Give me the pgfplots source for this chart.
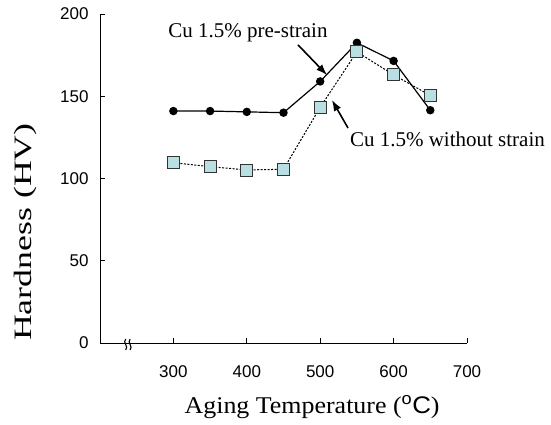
\documentclass[border=0pt]{standalone}
\usepackage{fontspec}
\setmainfont{Liberation Serif}
\setsansfont{Liberation Sans}
\usepackage{pgfplots}
\pgfplotsset{compat=1.18}
\usetikzlibrary{arrows.meta}
\definecolor{sqfill}{RGB}{184,224,226}
\begin{document}
\begin{tikzpicture}
\path[use as bounding box] (-100bp,-82bp) rectangle (451bp,343bp);
\begin{axis}[
  scale only axis, width=367bp, height=329bp,
  at={(0,0)}, anchor=south west,
  xmin=200, xmax=700, ymin=0, ymax=200,
  axis x line*=bottom, axis y line*=left,
  axis line style={line width=0.9bp, black, -},
  xtick={300,400,500,600,700}, ytick={0,50,100,150,200},
  tick align=inside, major tick length=5bp,
  tick style={line width=0.7bp, black},
  /pgf/number format/assume math mode=true,
  ticklabel style={font=\sffamily\fontsize{17bp}{19bp}\selectfont},
  xticklabel style={yshift=-19bp},
  yticklabel style={xshift=-8bp},
  xlabel={\scalebox{1.08}[1]{Aging Temperature (\textsuperscript{\sffamily o}{\sffamily C})}},
  xlabel style={font=\fontsize{24bp}{28bp}\selectfont, at={(axis description cs:0.578,-0.213)}, anchor=base},
  ylabel={\scalebox{1.43}[1]{Hardness (HV)}},
  ylabel style={font=\fontsize{25bp}{28bp}\selectfont, at={(axis description cs:-0.204,0.337)}, anchor=center},
  clip=false,
]
\addplot[black, line width=1.2bp, mark=*, mark size=3.6bp, mark options={solid, fill=black}] coordinates {
 (300,141) (350,141) (400,140.5) (450,140) (500,159) (550,182.5) (600,171.5) (650,141.5)};
\addplot[black, line width=1bp, dash pattern=on 2bp off 1.5bp, mark=square*, mark size=6bp, mark options={solid, fill=sqfill, draw=black!80, line width=0.8bp}] coordinates {
 (300,109.6) (350,107.2) (400,105.2) (450,105.6) (500,143.3) (550,177) (600,163) (650,150.5)};
\draw[line width=1.6bp, -{Latex[length=11bp,width=8bp]}] (axis cs:469.8,181.2) -- (axis cs:509.3,162.9);
\draw[line width=1.6bp, -{Latex[length=11bp,width=8bp]}] (axis cs:537.9,130.7) -- (axis cs:516,147.7);
\node[anchor=base, font=\fontsize{21bp}{24bp}\selectfont] at (axis cs:401.6,186) {Cu 1.5\% pre-strain};
\node[anchor=base, font=\fontsize{21bp}{24bp}\selectfont] at (axis cs:673.4,119.3) {Cu 1.5\% without strain};
\draw[line width=1.1bp] ([yshift=-7bp]axis cs:235,0) .. controls ([xshift=3.5bp,yshift=-3.5bp]axis cs:235,0) and ([xshift=-3.5bp,yshift=0.5bp]axis cs:235,0) .. ([yshift=4bp]axis cs:235,0);
\draw[line width=1.1bp] ([yshift=-7bp]axis cs:241,0) .. controls ([xshift=3.5bp,yshift=-3.5bp]axis cs:241,0) and ([xshift=-3.5bp,yshift=0.5bp]axis cs:241,0) .. ([yshift=4bp]axis cs:241,0);
\end{axis}
\end{tikzpicture}
\end{document}
